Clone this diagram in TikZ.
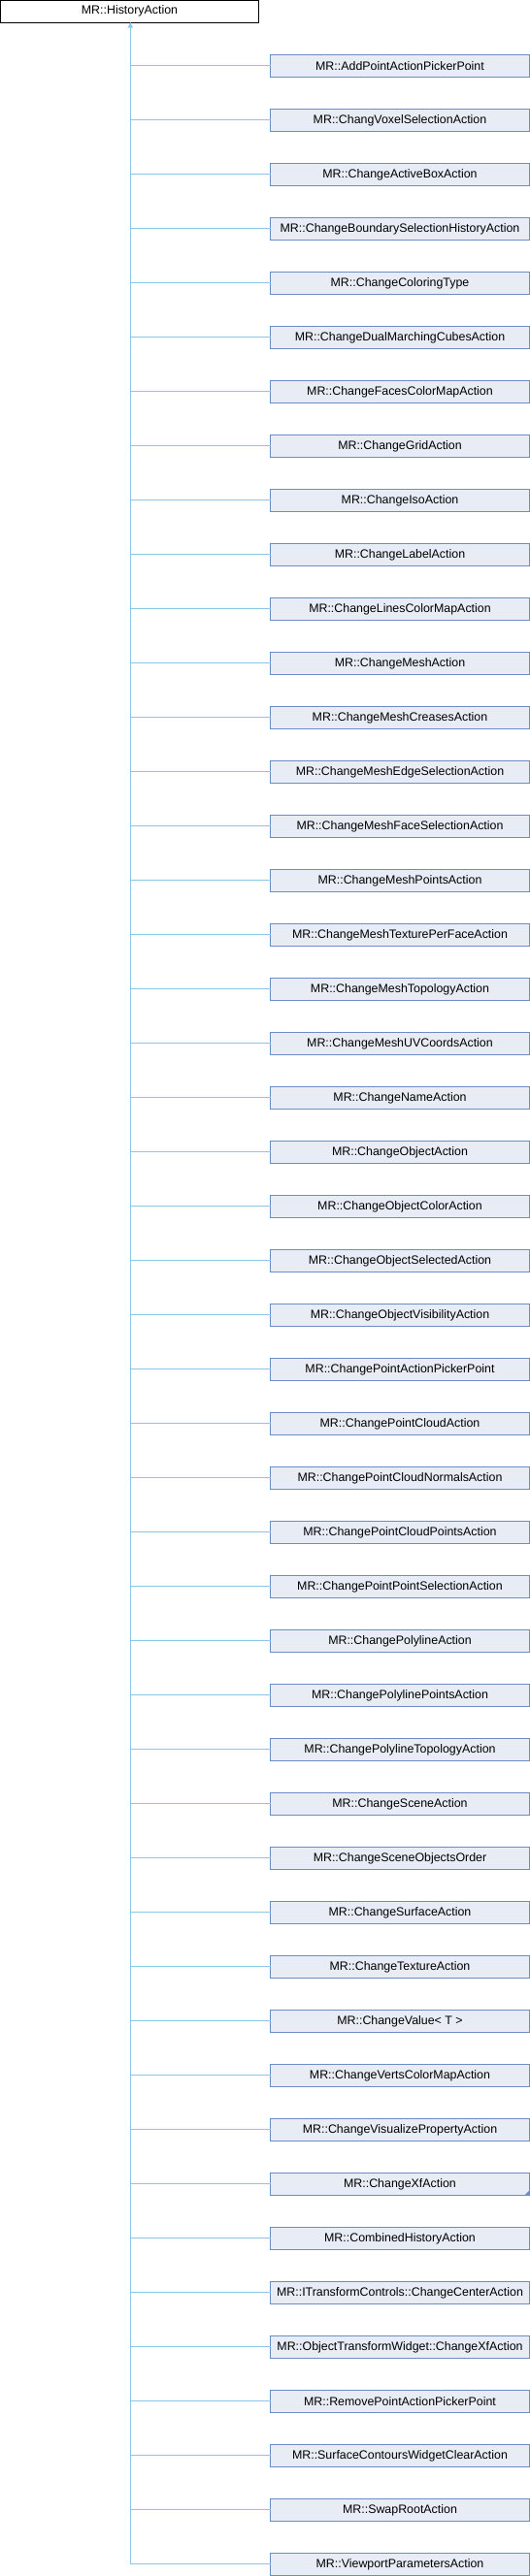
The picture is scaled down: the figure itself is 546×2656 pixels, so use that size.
\documentclass[tikz,border=0pt]{standalone}
\usepackage{fontspec}
\setmainfont{Liberation Sans}
\usetikzlibrary{arrows.meta}
\definecolor{edgeblue}{RGB}{138,200,234}
\definecolor{boxfill}{RGB}{232,236,245}
\definecolor{boxdraw}{RGB}{108,140,198}
\tikzset{
  basebox/.style={draw=black, fill=white, line width=1pt, minimum width=266pt, minimum height=22.5pt, inner sep=0pt, outer sep=0pt, font=\fontsize{12.4}{14}\selectfont},
  childbox/.style={draw=boxdraw, fill=boxfill, line width=1pt, minimum width=266.4pt, minimum height=22.5pt, inner sep=0pt, outer sep=0pt, font=\fontsize{12.4}{14}\selectfont},
  inherit/.style={draw=edgeblue, line width=1pt},
}
\begin{document}
\begin{tikzpicture}[x=1pt,y=-1pt]
\useasboundingbox (0,0) rectangle (546,2656);
\node[basebox] (base) at (133.5,11.75) {MR::HistoryAction};
\foreach \name [count=\i] in {
MR::AddPointActionPickerPoint,
MR::ChangVoxelSelectionAction,
MR::ChangeActiveBoxAction,
MR::ChangeBoundarySelectionHistoryAction,
MR::ChangeColoringType,
MR::ChangeDualMarchingCubesAction,
MR::ChangeFacesColorMapAction,
MR::ChangeGridAction,
MR::ChangeIsoAction,
MR::ChangeLabelAction,
MR::ChangeLinesColorMapAction,
MR::ChangeMeshAction,
MR::ChangeMeshCreasesAction,
MR::ChangeMeshEdgeSelectionAction,
MR::ChangeMeshFaceSelectionAction,
MR::ChangeMeshPointsAction,
MR::ChangeMeshTexturePerFaceAction,
MR::ChangeMeshTopologyAction,
MR::ChangeMeshUVCoordsAction,
MR::ChangeNameAction,
MR::ChangeObjectAction,
MR::ChangeObjectColorAction,
MR::ChangeObjectSelectedAction,
MR::ChangeObjectVisibilityAction,
MR::ChangePointActionPickerPoint,
MR::ChangePointCloudAction,
MR::ChangePointCloudNormalsAction,
MR::ChangePointCloudPointsAction,
MR::ChangePointPointSelectionAction,
MR::ChangePolylineAction,
MR::ChangePolylinePointsAction,
MR::ChangePolylineTopologyAction,
MR::ChangeSceneAction,
MR::ChangeSceneObjectsOrder,
MR::ChangeSurfaceAction,
MR::ChangeTextureAction,
MR::ChangeValue< T >,
MR::ChangeVertsColorMapAction,
MR::ChangeVisualizePropertyAction,
MR::ChangeXfAction,
MR::CombinedHistoryAction,
MR::ITransformControls::ChangeCenterAction,
MR::ObjectTransformWidget::ChangeXfAction,
MR::RemovePointActionPickerPoint,
MR::SurfaceContoursWidgetClearAction,
MR::SwapRootAction,
MR::ViewportParametersAction} {
  \pgfmathsetmacro{\yy}{67.8+56*(\i-1)}
  \node[childbox] (c\i) at (412,\yy) {\name};
  \coordinate (j\i) at (134.3,\yy);
  \draw[inherit] (c\i.west) -- (j\i);
}
% small "more" marker on ChangeXfAction
\fill[boxdraw] ([shift={(-0.3pt,-0.3pt)}]c40.south east) -- ++(-4.5,0) -- ++(4.5,-4.5) -- cycle;
\draw[inherit, -{Triangle[length=5.5pt,width=5pt]}] (j47) -- (base.south -| j1);
\end{tikzpicture}
\end{document}
